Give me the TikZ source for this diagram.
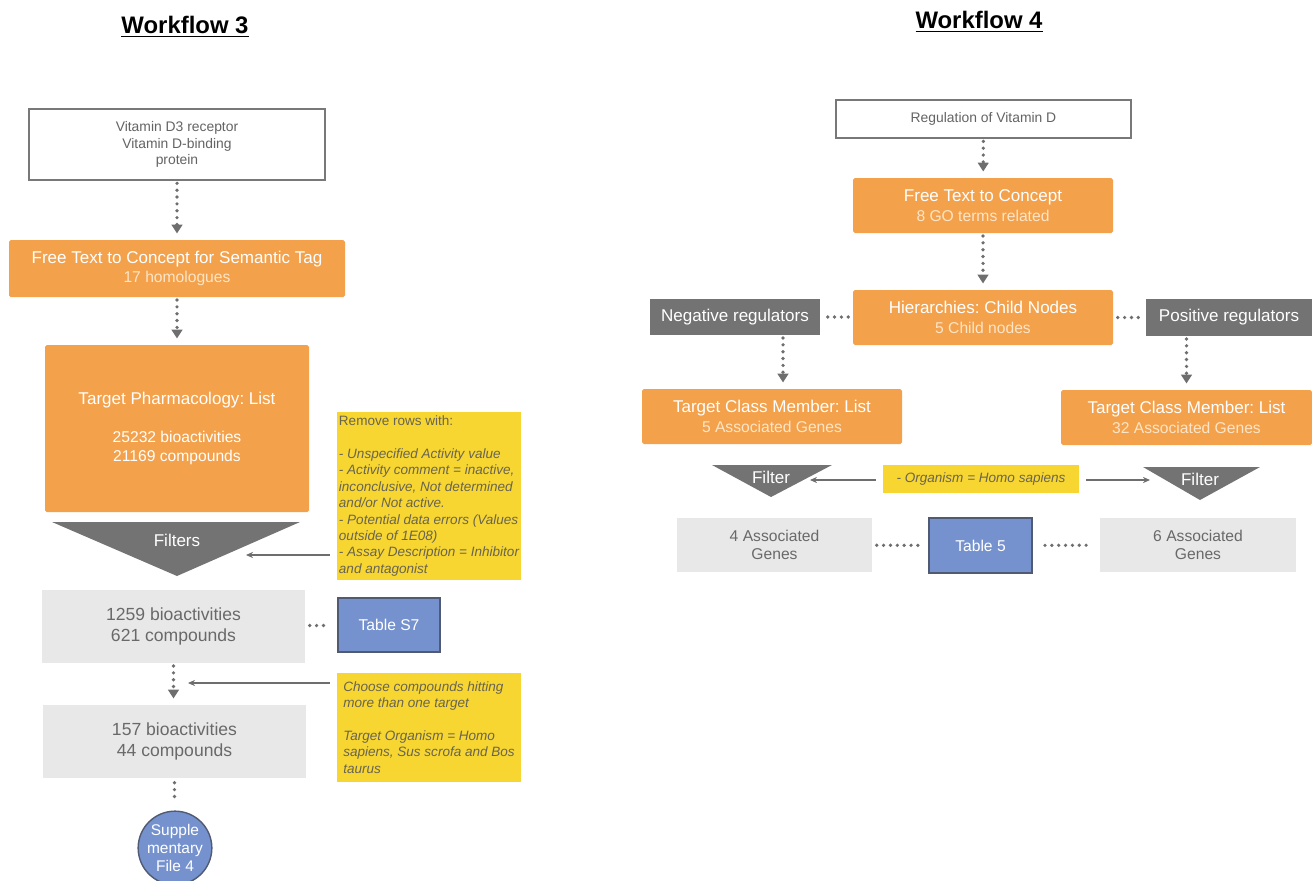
\documentclass[tikz,border=0pt]{standalone}
\usepackage{fontspec}
\setmainfont{Liberation Sans}
\usetikzlibrary{arrows.meta}
\definecolor{wforange}{RGB}{243,161,75}
\definecolor{subtone}{RGB}{253,229,200}
\definecolor{noteyellow}{RGB}{247,214,50}
\definecolor{notetext}{RGB}{105,100,80}
\definecolor{darkbox}{RGB}{115,115,115}
\definecolor{resgray}{RGB}{232,232,232}
\definecolor{restext}{RGB}{105,105,105}
\definecolor{qgray}{RGB}{120,120,120}
\definecolor{qtext}{RGB}{100,100,100}
\definecolor{tabblue}{RGB}{117,146,206}
\definecolor{tabborder}{RGB}{80,90,115}
\definecolor{dotgray}{RGB}{110,110,110}
\newcommand{\fstitle}{\fontsize{13.6}{16}\selectfont\bfseries}
\newcommand{\fsmain}{\fontsize{9.7}{11}\selectfont}
\newcommand{\fssub}{\fontsize{8.9}{10.5}\selectfont}
\newcommand{\fsquery}{\fontsize{7.9}{9.6}\selectfont}
\newcommand{\fsres}{\fontsize{10}{12}\selectfont}
\newcommand{\fsnote}{\fontsize{7.7}{9.3}\selectfont}
\frenchspacing
\begin{document}
\begin{tikzpicture}[x=0.02cm, y=-0.02cm,
	boxsize/.style 2 args={minimum width=#1*0.02cm, minimum height=#2*0.02cm},
	querybox/.style={draw=qgray, line width=0.8pt, fill=white, text=qtext, inner sep=0pt, align=center, font=\fsquery},
	stepbox/.style={fill=wforange, text=white, inner sep=0pt, align=center, font=\fsmain, rounded corners=1pt},
	resbox/.style={fill=resgray, text=restext, inner sep=0pt, align=center, font=\fsres},
	regbox/.style={fill=darkbox, text=white, inner sep=0pt, align=center, font=\fsmain},
	notebox/.style={fill=noteyellow, text=notetext, inner sep=0pt, align=left, font=\fsnote\itshape},
	tabbox/.style={fill=tabblue, draw=tabborder, line width=0.8pt, text=white, inner sep=0pt, align=center, font=\fssub},
	dotline/.style={draw=dotgray, line width=2.1pt, line cap=round, dash pattern=on 0pt off 3.9pt, shorten <=2.5pt, shorten >=4pt},
	dotarrow/.style={dotline, -{Triangle[width=6pt,length=5pt]}, shorten <=1.5pt, shorten >=3.5pt},
	thinarrow/.style={draw=dotgray, line width=0.7pt, -{Stealth[length=4pt,width=3.5pt]}, shorten <=4pt}]
	\useasboundingbox (0,0) rectangle (1312,880);
	% Workflow 3
	\node[font=\fstitle] (wf3) at (185,27) {\underline{Workflow 3}};
	\node[querybox, boxsize={296}{71}] (qry3) at (177,144.5) {Vitamin D3 receptor\\Vitamin D-binding\\protein};
	\node[stepbox, boxsize={336}{57}] (ftc3) at (177,268.5) {Free Text to Concept for Semantic Tag\\{\fssub\color{subtone}17 homologues}};
	\node[stepbox, boxsize={264}{167}] (tph) at (177,428.5) {Target Pharmacology: List\\[10.5pt]{\fssub 25232 bioactivities}\\{\fssub 21169 compounds}};
	\fill[darkbox] (52,522) -- (300,522) -- (177,576) -- cycle;
	\node[font=\fsmain, text=white] (filt3) at (177,540) {Filters};
	\coordinate (filt3in) at (246,555);
	\node[notebox, boxsize={184}{168}] (note1) at (429,496) {{\upshape Remove rows with:}\\[9.3pt]- Unspecified Activity value\\- Activity comment = inactive,\\inconclusive, Not determined\\and/or Not active.\\- Potential data errors (Values\\outside of 1E08)\\- Assay Description = Inhibitor\\and antagonist};
	\node[resbox, boxsize={263}{73}] (res1) at (173.5,626.5) {1259 bioactivities\\621 compounds};
	\node[tabbox, boxsize={102}{54}] (tabS7) at (389,625) {Table S7};
	\node[notebox, boxsize={184}{109}] (note2) at (429,727.5) {Choose compounds hitting\\more than one target\\[9.3pt]Target Organism = Homo\\sapiens, Sus scrofa and Bos\\taurus};
	\coordinate (res2in) at (188,683);
	\node[resbox, boxsize={263}{73}] (res2) at (174.5,741.5) {157 bioactivities\\44 compounds};
	\node[circle, fill=tabblue, draw=tabborder, line width=0.8pt, minimum size=66*0.02cm, inner sep=0pt, text=white, align=center, font=\fontsize{8.8}{10.5}\selectfont] (supp) at (175,848) {Supple\\mentary\\File 4};
	\draw[dotarrow] (qry3) -- (ftc3);
	\draw[dotarrow] (ftc3) -- (tph);
	\draw[thinarrow] (note1.west |- filt3in) -- (filt3in);
	\draw[dotline] (res1) -- (tabS7);
	\draw[dotarrow] (res1.south) -- (res1.south |- res2.north);
	\draw[thinarrow] (note2.west |- res2in) -- (res2in);
	\draw[dotline, shorten >=6pt] (res2.south) -- (res2.south |- supp.north);
	% Workflow 4
	\node[font=\fstitle] (wf4) at (979,22) {\underline{Workflow 4}};
	\node[querybox, boxsize={295}{38}] (qry4) at (983.5,119) {Regulation of Vitamin D};
	\node[stepbox, boxsize={260}{55}] (ftc4) at (983,205.5) {Free Text to Concept\\{\fssub\color{subtone}8 GO terms related}};
	\node[stepbox, boxsize={260}{55}] (hier) at (983,317.5) {Hierarchies: Child Nodes\\{\fssub\color{subtone}5 Child nodes}};
	\node[regbox, boxsize={170}{36}] (negreg) at (735,317) {Negative regulators};
	\node[regbox, boxsize={166}{37}] (posreg) at (1229,317.5) {Positive regulators};
	\node[stepbox, boxsize={260}{55}] (tcmL) at (772,416.5) {Target Class Member: List\\{\fssub\color{subtone}5 Associated Genes}};
	\node[stepbox, boxsize={251}{55}] (tcmR) at (1186.5,417.5) {Target Class Member: List\\{\fssub\color{subtone}32 Associated Genes}};
	\fill[darkbox] (712,465) -- (832,465) -- (771,497) -- cycle;
	\node[font=\fsmain, text=white] (filtL) at (771,477) {Filter};
	\fill[darkbox] (1143,467) -- (1260,467) -- (1200,500) -- cycle;
	\node[font=\fsmain, text=white] (filtR) at (1200,479) {Filter};
	\node[notebox, boxsize={196}{28}] (note3) at (981,479) {- Organism = Homo sapiens};
	\coordinate (filtLin) at (810,480);
	\coordinate (filtRin) at (1150,480);
	\node[resbox, font=\fssub, boxsize={195}{54}] (genL) at (774.5,545) {4 Associated\\Genes};
	\node[tabbox, boxsize={103}{55}] (tab5) at (980.5,545.5) {Table 5};
	\node[resbox, font=\fssub, boxsize={196}{54}] (genR) at (1198,545) {6 Associated\\Genes};
	\coordinate (negx) at (783,0);
	\draw[dotarrow] (qry4) -- (ftc4);
	\draw[dotarrow] (ftc4) -- (hier);
	\draw[dotline] (hier.west |- negreg) -- (negreg);
	\draw[dotline] (hier.east |- posreg) -- (posreg);
	\draw[dotarrow] (negreg.south -| negx) -- (tcmL.north -| negx);
	\draw[dotarrow] (posreg.south -| tcmR.north) -- (tcmR.north);
	\draw[thinarrow] (note3.west |- filtLin) -- (filtLin);
	\draw[thinarrow] (note3.east |- filtRin) -- (filtRin);
	\draw[dotline] (genL) -- (tab5);
	\draw[dotline, shorten <=7pt] (tab5) -- (genR);
\end{tikzpicture}
\end{document}
